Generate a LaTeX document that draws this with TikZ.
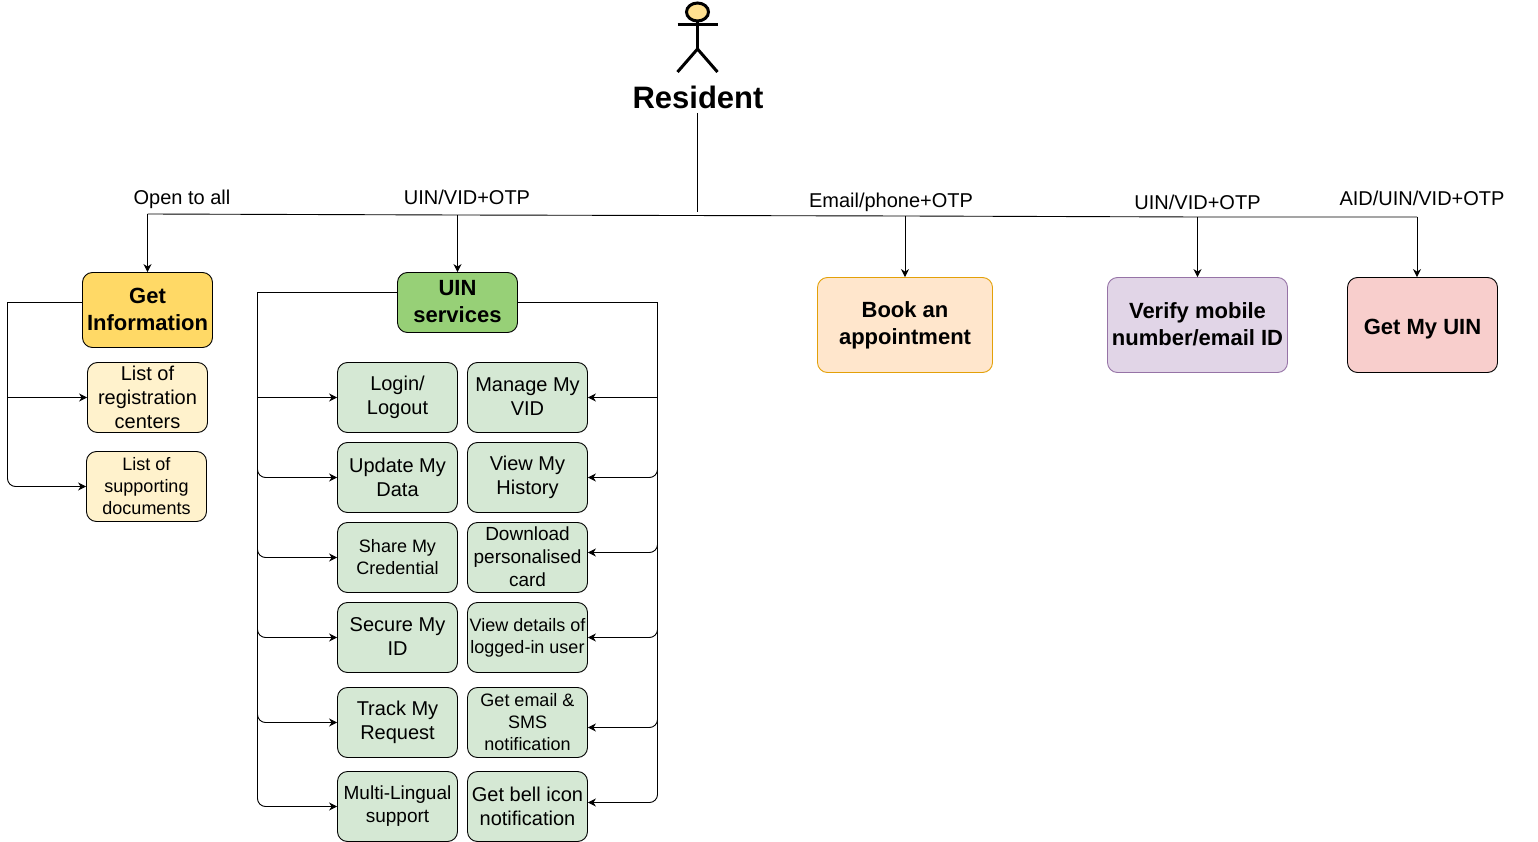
\documentclass[tikz,border=0pt]{standalone}
\usepackage{fontspec}
\setmainfont{Liberation Sans}
\usetikzlibrary{arrows.meta, positioning}
\newcommand{\boxstrut}{\rule[-0.05\baselineskip]{0pt}{0.9\baselineskip}}
\tikzset{
    actor/.pic={
        % Head
        \draw[line width=3pt, fill=headyellow] (0,12) ellipse (11 and 9);
        % Body
        \draw[line width=3pt] (0,21) -- (0,49);
        % Arms
        \draw[line width=3pt] (-20,25) -- (20,25);
        % Legs
        \draw[line width=3pt] (0,49) -- (-20,72);
        \draw[line width=3pt] (0,49) -- (20,72);
    }
}
\definecolor{headyellow}{HTML}{FFE08F}
\definecolor{infofill}{HTML}{FFD966}
\definecolor{infolight}{HTML}{FFF2CC}
\definecolor{uinfill}{HTML}{97D077}
\definecolor{uinlight}{HTML}{D5E8D4}
\definecolor{bookfill}{HTML}{FFE6CC}
\definecolor{bookline}{HTML}{E3A008}
\definecolor{verifyfill}{HTML}{E1D5E7}
\definecolor{verifyline}{HTML}{9673A6}
\definecolor{getfill}{HTML}{F8CECC}
\tikzstyle{box} = [rectangle, rounded corners=10pt, draw=black, line width=0.9pt, inner sep=0pt, align=center, font=\fontsize{20}{24}\selectfont, execute at begin node=\boxstrut, execute at end node=\boxstrut]
\tikzstyle{head} = [box, font=\bfseries\fontsize{22}{27}\selectfont]
\tikzstyle{infoitem} = [box, fill=infolight, minimum width=120pt, minimum height=70pt]
\tikzstyle{uinitem} = [box, fill=uinlight, minimum width=120pt, minimum height=70pt]
\tikzstyle{small} = [font=\fontsize{18}{22}\selectfont]
\tikzstyle{mid} = [font=\fontsize{19}{23}\selectfont]
\tikzstyle{label} = [font=\fontsize{20}{24}\selectfont, inner sep=0pt, execute at begin node=\boxstrut]
\tikzstyle{arrow} = [line width=0.9pt, ->, >={Stealth[length=8pt, width=8pt]}]
\tikzstyle{wire} = [arrow, rounded corners=8pt]

\begin{document}
\begin{tikzpicture}[x=1pt, y=-1pt]

    \useasboundingbox (0,0) rectangle (1538,842);

    % Actor
    \pic at (697.5,0) {actor};
    \node[inner sep=0pt, font=\bfseries\fontsize{31}{36}\selectfont] (resident) at (698,97) {Resident};

    % Top boxes
    \node[head, fill=infofill, minimum width=130pt, minimum height=75pt] (info) at (147.5,310) {Get\\Information};
    \node[head, fill=uinfill, minimum width=120pt, minimum height=60pt] (uin) at (457.5,302.5) {UIN\\services};
    \node[head, fill=bookfill, draw=bookline, minimum width=175pt, minimum height=95pt] (book) at (905,325) {Book an\\appointment};
    \node[head, fill=verifyfill, draw=verifyline, minimum width=180pt, minimum height=95pt] (verify) at (1197.5,325) {Verify mobile\\number/email ID};
    \node[head, fill=getfill, minimum width=150pt, minimum height=95pt] (getuin) at (1422.5,325) {Get My UIN};

    % Get Information items
    \node[infoitem] (centers) at (147.5,397.5) {List of\\registration\\centers};
    \node[infoitem, small] (documents) at (146.5,486.5) {List of\\supporting\\documents};

    % UIN services, left column
    \node[uinitem] (login) at (397.5,397.5) {Login/\\Logout};
    \node[uinitem] (update) at (397.5,477.5) {Update My\\Data};
    \node[uinitem, small] (share) at (397.5,557.5) {Share My\\Credential};
    \node[uinitem] (secure) at (397.5,637.5) {Secure My\\ID};
    \node[uinitem] (track) at (397.5,722.5) {Track My\\Request};
    \node[uinitem, mid] (lingual) at (397.5,806.5) {Multi-Lingual\\support};

    % UIN services, right column
    \node[uinitem] (vid) at (527.5,397.5) {Manage My\\VID};
    \node[uinitem] (history) at (527.5,477.5) {View My\\History};
    \node[uinitem, mid] (card) at (527.5,557.5) {Download\\personalised\\card};
    \node[uinitem, small] (details) at (527.5,637.5) {View details of\\logged-in user};
    \node[uinitem, small] (email) at (527.5,722.5) {Get email \&\\SMS\\notification};
    \node[uinitem] (bell) at (527.5,806.5) {Get bell icon\\notification};

    % Labels
    \node[label] (openlabel) at (182,196) {Open to all};
    \node[label] (uinlabel) at (467,195) {UIN/VID+OTP};
    \node[label] (emaillabel) at (891,199) {Email/phone+OTP};
    \node[label] (verifylabel) at (1197.5,200) {UIN/VID+OTP};
    \node[label] (aidlabel) at (1422,196) {AID/UIN/VID+OTP};

    % Bus coordinates
    \coordinate (trunktop) at (697.5,113);
    \coordinate (trunkend) at (697.5,212);
    \coordinate (businfo) at (147.5,214);
    \coordinate (busuin) at (457.5,215);
    \coordinate (busbook) at (905,216);
    \coordinate (busverify) at (1197.5,217);
    \coordinate (busget) at (1417,217);
    \coordinate (infoleft) at (7.5,302);
    \coordinate (uinleft) at (257.5,292);
    \coordinate (uinright) at (657.5,302);

    % Bus
    \draw[line width=0.9pt] (trunktop) -- (trunkend);
    \draw[line width=0.9pt] (businfo) -- (busuin) -- (busbook) -- (busverify) -- (busget);
    \draw[arrow] (businfo) -- (info.north);
    \draw[arrow] (busuin) -- (uin.north);
    \draw[arrow] (busbook) -- (book.north);
    \draw[arrow] (busverify) -- (verify.north);
    \draw[arrow] (busget) -- (busget |- getuin.north);

    % Get Information links
    \draw[line width=0.9pt] (info.west |- infoleft) -- (infoleft);
    \draw[arrow] (infoleft) |- (centers.west);
    \draw[wire] (infoleft) |- (documents.west);

    % UIN services, left links
    \draw[line width=0.9pt] (uin.west |- uinleft) -- (uinleft);
    \draw[arrow] (uinleft) |- (login.west);
    \draw[wire] (uinleft) |- (update.west);
    \draw[wire] (uinleft) |- (share.west);
    \draw[wire] (uinleft) |- (secure.west);
    \draw[wire] (uinleft) |- (track.west);
    \draw[wire] (uinleft) |- (lingual.west);

    % UIN services, right links
    \draw[line width=0.9pt] (uin.east |- uinright) -- (uinright);
    \draw[arrow] (uinright) |- (vid.east);
    \draw[wire] (uinright) |- (history.east);
    \draw[wire] (uinright) |- ([yshift=5pt]card.east);
    \draw[wire] (uinright) |- (details.east);
    \draw[wire] (uinright) |- ([yshift=-5pt]email.east);
    \draw[wire] (uinright) |- ([yshift=4pt]bell.east);

\end{tikzpicture}
\end{document}
